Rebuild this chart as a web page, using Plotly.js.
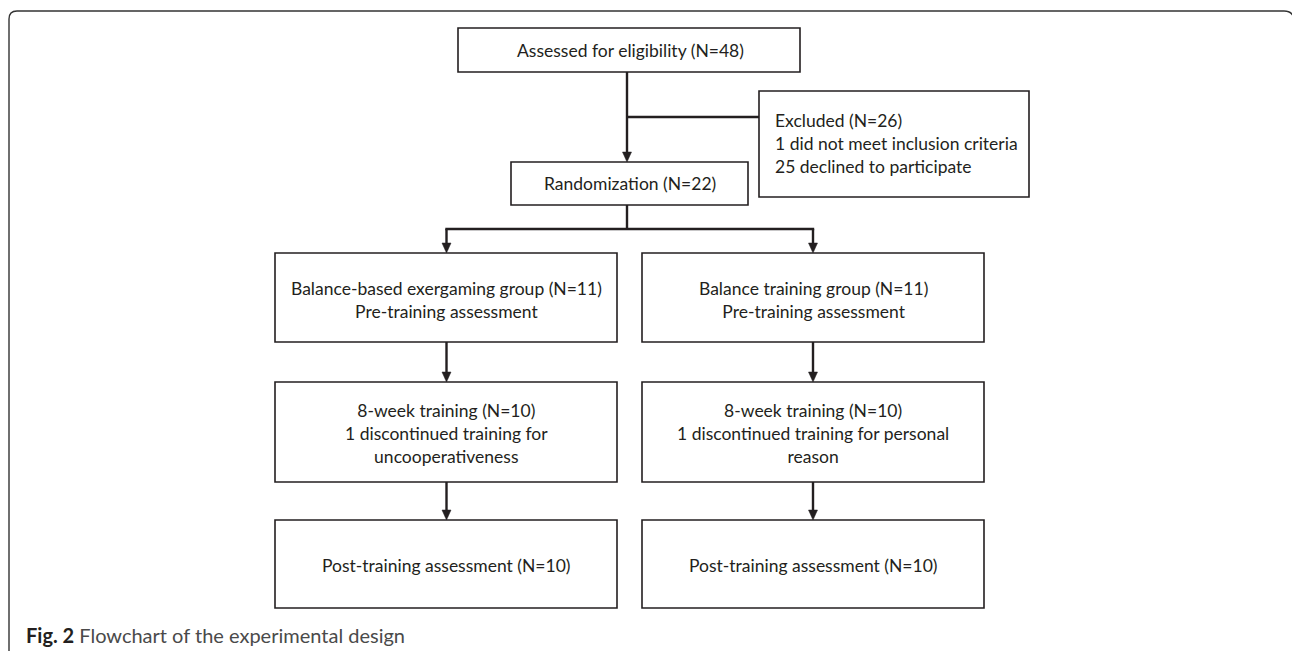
<!DOCTYPE html>
<html>
<head>
<meta charset="utf-8">
<script src="https://cdn.plot.ly/plotly-3.0.1.min.js"></script>
<style>
  html, body { margin: 0; padding: 0; background: #fff; }
  #chart { width: 1292px; height: 651px; }
</style>
</head>
<body>
<div id="chart"></div>
<script>
// ---- Content (text of each flowchart node) ----
const assessedLabel = ["Assessed for eligibility (N=48)"];
const randomLabel = ["Randomization (N=22)"];
const excludedLabel = ["Excluded (N=26)", "1 did not meet inclusion criteria", "25 declined to participate"];
const groupLabels = [
  ["Balance-based exergaming group (N=11)", "Pre-training assessment"],
  ["Balance training group (N=11)", "Pre-training assessment"]
];
const trainingLabels = [
  ["8-week training (N=10)", "1 discontinued training for", "uncooperativeness"],
  ["8-week training (N=10)", "1 discontinued training for personal", "reason"]
];
const postLabels = [
  ["Post-training assessment (N=10)"],
  ["Post-training assessment (N=10)"]
];
const captionBold = "Fig. 2";
const captionText = "Flowchart of the experimental design";

// ---- Layout geometry (pixel-like units on hidden axes) ----
const W = 1292, H = 651;
const colX = [[275, 617], [642, 984]];
const geo = {
  assessed: [458, 800, 28, 72],
  random: [511, 748, 162, 205],
  excluded: [759, 1029, 91, 197],
  rowGroup: [253, 342],
  rowTrain: [382, 482],
  rowPost: [520, 608]
};

const ink = "#231f20";
const FONT = "Lato, 'Open Sans', sans-serif";
const FS = 17.5;

const shapes = [];
const annotations = [];

function box(x0, x1, y0, y1) {
  shapes.push({type: "rect", xref: "x", yref: "y", x0, x1, y0, y1,
    line: {color: ink, width: 1.6}, fillcolor: "rgba(0,0,0,0)"});
}
function label(lines, x, y, anchor) {
  annotations.push({
    xref: "x", yref: "y", x, y, showarrow: false,
    text: lines.join("<br>"),
    xanchor: anchor || "center", yanchor: "middle",
    align: anchor === "left" ? "left" : "center",
    font: {family: FONT, size: FS, color: ink}
  });
}
function seg(x0, y0, x1, y1) {
  shapes.push({type: "line", xref: "x", yref: "y", x0, y0, x1, y1,
    line: {color: ink, width: 2.4}});
}
function arrowDown(x, y0, y1) {
  const hh = 10, hw = 4.5;
  seg(x, y0, x, y1 - hh + 1);
  shapes.push({type: "path", xref: "x", yref: "y",
    path: `M ${x - hw} ${y1 - hh} L ${x + hw} ${y1 - hh} L ${x} ${y1} Z`,
    fillcolor: ink, line: {color: ink, width: 0.5}});
}
function cx(a) { return (a[0] + a[1]) / 2; }

// Outer frame (open at bottom, right side runs off the page)
shapes.push({type: "path", xref: "x", yref: "y",
  path: `M 9 ${H + 10} L 9 19 Q 9 11 17 11 L 1284 11 Q 1291 11 1293 16 L 1293 ${H + 10}`,
  line: {color: "#333", width: 1.4}});

// Top box
box(...geo.assessed);
label(assessedLabel, (geo.assessed[0] + geo.assessed[1]) / 2 + 1, (geo.assessed[2] + geo.assessed[3]) / 2);

// Randomization
box(...geo.random);
label(randomLabel, (geo.random[0] + geo.random[1]) / 2, (geo.random[2] + geo.random[3]) / 2);

// Excluded
box(...geo.excluded);
label(excludedLabel, geo.excluded[0] + 14, (geo.excluded[2] + geo.excluded[3]) / 2 - 1, "left");

// Main trunk connectors
const trunkX = 627;
arrowDown(trunkX, geo.assessed[3], geo.random[2]);
seg(trunkX, 117, geo.excluded[0], 117);
seg(trunkX, geo.random[3], trunkX, 229);
const leftC = cx(colX[0]) + 0.5, rightC = cx(colX[1]);
seg(leftC - 1.2, 229, rightC + 1.2, 229);
arrowDown(leftC, 229, geo.rowGroup[0]);
arrowDown(rightC, 229, geo.rowGroup[0]);

// Column boxes
[0, 1].forEach(i => {
  const [x0, x1] = colX[i];
  const c = (x0 + x1) / 2;
  box(x0, x1, geo.rowGroup[0], geo.rowGroup[1]);
  label(groupLabels[i], c, (geo.rowGroup[0] + geo.rowGroup[1]) / 2 + 2);
  box(x0, x1, geo.rowTrain[0], geo.rowTrain[1]);
  label(trainingLabels[i], c, (geo.rowTrain[0] + geo.rowTrain[1]) / 2 + 1);
  box(x0, x1, geo.rowPost[0], geo.rowPost[1]);
  label(postLabels[i], c, (geo.rowPost[0] + geo.rowPost[1]) / 2 + 1);
  arrowDown(i === 0 ? leftC : rightC, geo.rowGroup[1], geo.rowTrain[0]);
  arrowDown(i === 0 ? leftC : rightC, geo.rowTrain[1], geo.rowPost[0]);
});

// Caption
annotations.push({
  xref: "x", yref: "y", x: 24, y: 635, showarrow: false,
  xanchor: "left", yanchor: "middle", align: "left",
  text: `<b>${captionBold}</b> <span style="color:#4a4a4a">${captionText}</span>`,
  font: {family: FONT, size: 20, color: ink}
});

const layout = {
  width: W, height: H,
  margin: {l: 0, r: 0, t: 0, b: 0},
  paper_bgcolor: "#fff", plot_bgcolor: "#fff",
  xaxis: {range: [0, W], visible: false, fixedrange: true},
  yaxis: {range: [H, 0], visible: false, fixedrange: true},
  showlegend: false,
  shapes, annotations
};

Plotly.newPlot("chart", [], layout, {staticPlot: true, displayModeBar: false});
</script>
</body>
</html>
